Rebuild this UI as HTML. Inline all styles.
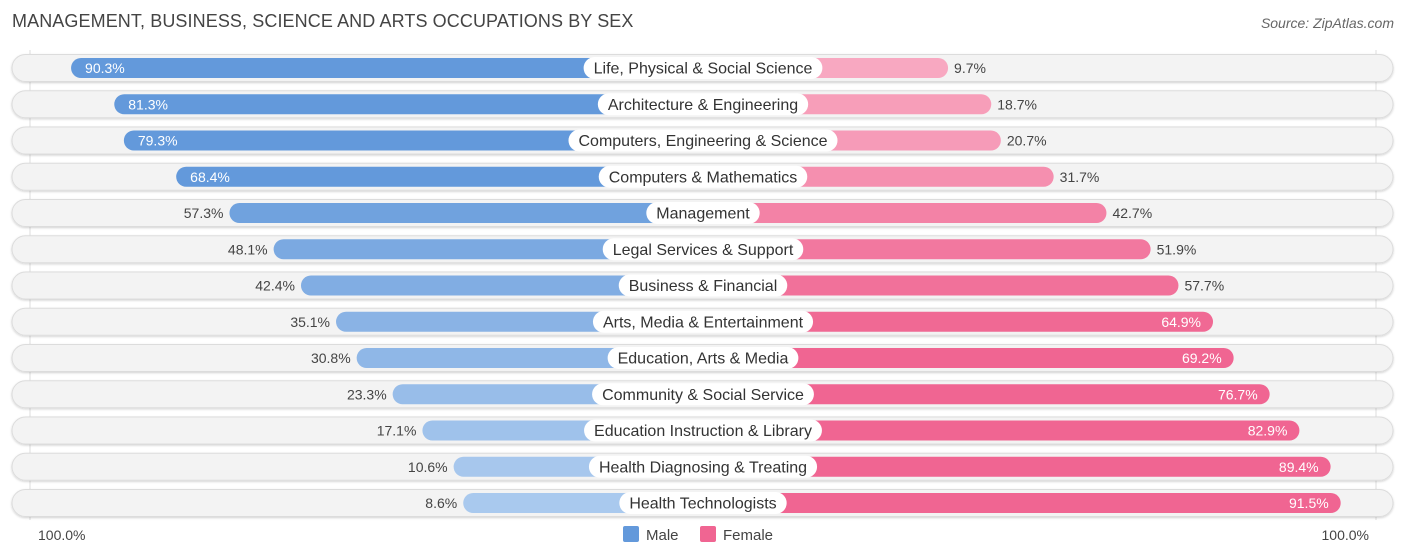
<!DOCTYPE html>
<html><head><meta charset="utf-8"><style>
body{margin:0;background:#fff;font-family:"Liberation Sans",sans-serif;}
#wrap{position:relative;width:1406px;height:559px;overflow:hidden;}
.title{position:absolute;left:12px;top:11px;font-size:18px;color:#444;letter-spacing:0.1px}
.src{position:absolute;right:12px;top:15px;font-size:14px;color:#666;font-style:italic}
</style></head><body>
<div id="wrap">
<div class="title">MANAGEMENT, BUSINESS, SCIENCE AND ARTS OCCUPATIONS BY SEX</div>
<div class="src">Source: ZipAtlas.com</div>
<svg id="svg" width="1406" height="559" style="position:absolute;left:0;top:0"></svg>
</div>
<script>
const categories=["Life, Physical & Social Science","Architecture & Engineering","Computers, Engineering & Science","Computers & Mathematics","Management","Legal Services & Support","Business & Financial","Arts, Media & Entertainment","Education, Arts & Media","Community & Social Service","Education Instruction & Library","Health Diagnosing & Treating","Health Technologists"];
const maleValues=[90.3,81.3,79.3,68.4,57.3,48.1,42.4,35.1,30.8,23.3,17.1,10.6,8.6];
const femaleValues=[9.7,18.7,20.7,31.7,42.7,51.9,57.7,64.9,69.2,76.7,82.9,89.4,91.5];
const axisLabels=["100.0%","100.0%"];
const legendLabels=["Male","Female"];

const svg=document.getElementById('svg');
const NS="http://www.w3.org/2000/svg";
const cx=703, scale=4.8, offset=198.5, y0=68, step=36.25;
const x=v=>offset+v*scale;
const y=i=>y0+i*step;
function mk(tag,attrs,parent){const e=document.createElementNS(NS,tag);for(const k in attrs)e.setAttribute(k,attrs[k]);(parent||svg).appendChild(e);return e;}
function mix(a,b,t){return 'rgb('+a.map((v,i)=>Math.round(v+(b[i]-v)*t)).join(',')+')';}
const mLight=[170,201,238],mDark=[99,153,219],fLight=[248,170,194],fDark=[240,101,146];
const defs=mk('defs',{});
const f=mk('filter',{id:'sh',x:'-5%',y:'-30%',width:'110%',height:'160%'},defs);
mk('feDropShadow',{dx:0,dy:1,stdDeviation:1,'flood-color':'#000','flood-opacity':0.18},f);
mk('line',{x1:30,y1:50,x2:30,y2:520,stroke:'#ddd','stroke-width':1});
mk('line',{x1:1376,y1:50,x2:1376,y2:520,stroke:'#ddd','stroke-width':1});
categories.forEach((c,i)=>{
  const yc=y(i);
  const g=mk('g',{});
  
  
  const bg=mk('rect',{x:12,y:yc-13.5,width:1381,height:27,rx:13.5,fill:'#f3f3f3',stroke:'#dcdcdc','stroke-width':1,filter:'url(#sh)'},g);
  
  
  const mv=maleValues[i], fv=femaleValues[i];
  const mw=x(mv), fw=x(fv);
  const mb=mk('rect',{x:cx-mw,y:yc-10,width:mw,height:20,rx:10,fill:mix(mLight,mDark,Math.min(1,Math.max(0,(mv-8)/60)))},g);
  
  
  const fb=mk('rect',{x:cx,y:yc-10,width:fw,height:20,rx:10,fill:mix(fLight,fDark,Math.min(1,Math.max(0,(fv-8)/60)))},g);
  
  
  const mIn=mv>60;
  const mt=mk('text',{x:mIn?cx-mw+14:cx-mw-6,y:yc+5,'font-size':14,fill:mIn?'#fff':'#444','text-anchor':mIn?'start':'end'},g);
  mt.textContent=mv.toFixed(1)+'%';
  
  
  const fIn=fv>60;
  const ft=mk('text',{x:fIn?cx+fw-12:cx+fw+6,y:yc+5,'font-size':14,fill:fIn?'#fff':'#444','text-anchor':fIn?'end':'start'},g);
  ft.textContent=fv.toFixed(1)+'%';
  
  
  const lt=mk('text',{x:cx,y:yc+5.5,'font-size':16,fill:'#333','text-anchor':'middle'},g);
  lt.textContent=c;
  const w=lt.getComputedTextLength();
  const lb=mk('rect',{x:cx-w/2-10,y:yc-11,width:w+20,height:22,rx:11,fill:'#fff'},g);
  g.insertBefore(lb,lt);
  
  
  
  
});
const al=mk('text',{x:38,y:540,'font-size':14,fill:'#444'});al.textContent=axisLabels[0];


const ar=mk('text',{x:1369,y:540,'font-size':14,fill:'#444','text-anchor':'end'});ar.textContent=axisLabels[1];


const lm=mk('rect',{x:623,y:526,width:16,height:16,rx:2,fill:'#6399db'});


const lmt=mk('text',{x:646,y:540,'font-size':15,fill:'#444'});lmt.textContent=legendLabels[0];


const lf=mk('rect',{x:700,y:526,width:16,height:16,rx:2,fill:'#f06592'});


const lft=mk('text',{x:723,y:540,'font-size':15,fill:'#444'});lft.textContent=legendLabels[1];


</script>
</body></html>
